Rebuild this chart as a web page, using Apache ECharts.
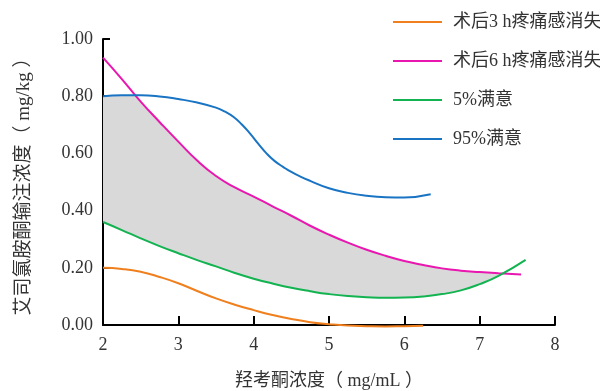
<!DOCTYPE html>
<html>
<head>
<meta charset="utf-8">
<script src="https://cdn.jsdelivr.net/npm/echarts@6/dist/echarts.min.js"></script>
<style>html,body{margin:0;padding:0;background:#fff}#c{width:600px;height:391px}</style>
</head>
<body>
<div id="c"></div>
<script>
// Data
var seriesNames = ['术后3 h疼痛感消失', '术后6 h疼痛感消失', '5%满意', '95%满意'];
var xTicks = [2, 3, 4, 5, 6, 7, 8];
var yTicks = [0, 0.2, 0.4, 0.6, 0.8, 1.0];

var pain3hX = [2, 2.25, 2.5, 2.75, 3, 3.25, 3.5, 3.75, 4, 4.25, 4.5, 4.75, 5, 5.25, 5.5, 5.75, 6, 6.25];
var pain3hY = [0.200, 0.196, 0.186, 0.168, 0.146, 0.119, 0.093, 0.071, 0.052, 0.035, 0.021, 0.010, 0.003, -0.002, -0.004, -0.005, -0.004, -0.003];

var pain6hX = [2, 2.25, 2.5, 2.75, 3, 3.25, 3.5, 3.75, 4, 4.25, 4.5, 4.75, 5, 5.25, 5.5, 5.75, 6, 6.25, 6.5, 6.75, 7, 7.25, 7.55];
var pain6hY = [0.935, 0.860, 0.781, 0.710, 0.641, 0.575, 0.521, 0.481, 0.449, 0.415, 0.382, 0.347, 0.316, 0.288, 0.263, 0.242, 0.224, 0.210, 0.198, 0.190, 0.185, 0.181, 0.177];

var sat5X = [2, 2.25, 2.5, 2.75, 3, 3.25, 3.5, 3.75, 4, 4.25, 4.5, 4.75, 5, 5.25, 5.5, 5.75, 6, 6.25, 6.5, 6.75, 7, 7.25, 7.61];
var sat5Y = [0.360, 0.332, 0.303, 0.276, 0.251, 0.227, 0.205, 0.182, 0.162, 0.145, 0.130, 0.118, 0.108, 0.101, 0.097, 0.095, 0.096, 0.100, 0.108, 0.121, 0.143, 0.172, 0.228];

var sat95X = [2, 2.25, 2.5, 2.75, 3, 3.25, 3.5, 3.62, 3.73, 3.84, 3.95, 4.06, 4.17, 4.28, 4.39, 4.5, 4.62, 4.75, 5, 5.25, 5.5, 5.75, 6, 6.35];
var sat95Y = [0.800, 0.803, 0.803, 0.799, 0.790, 0.778, 0.760, 0.746, 0.728, 0.702, 0.670, 0.634, 0.600, 0.573, 0.553, 0.535, 0.519, 0.504, 0.478, 0.462, 0.452, 0.447, 0.446, 0.457];

var colors = ['#F07F1E', '#E916B0', '#12B350', '#1A74C4'];

function pairs(xs, ys) { return xs.map(function (x, i) { return [x, ys[i]]; }); }
function interp(xs, ys, x) {
  if (x <= xs[0]) return ys[0];
  for (var i = 1; i < xs.length; i++) {
    if (x <= xs[i]) {
      var t = (x - xs[i - 1]) / (xs[i] - xs[i - 1]);
      return ys[i - 1] + t * (ys[i] - ys[i - 1]);
    }
  }
  return ys[ys.length - 1];
}
function topAt(x) {
  var m = interp(pain6hX, pain6hY, x);
  if (x <= sat95X[sat95X.length - 1]) m = Math.min(m, interp(sat95X, sat95Y, x));
  return m;
}
function botAt(x) { return interp(sat5X, sat5Y, x); }

// Band: between the upper bound (min of 95% and 6h) and 5% line, up to where they meet
function bandPoints() {
  var xsAll = {};
  [pain6hX, sat5X, sat95X].forEach(function (a) { a.forEach(function (x) { xsAll[x] = 1; }); });
  var xs = Object.keys(xsAll).map(Number).sort(function (a, b) { return a - b; });
  var dense = [];
  for (var i = 0; i < xs.length - 1; i++) {
    for (var k = 0; k < 4; k++) dense.push(xs[i] + (xs[i + 1] - xs[i]) * k / 4);
  }
  dense.push(xs[xs.length - 1]);
  var top = [], bot = [], endX = null;
  for (var j = 0; j < dense.length; j++) {
    var x = dense[j];
    var d = topAt(x) - botAt(x);
    if (d < 0) {
      var lo = dense[j - 1], hi = x;
      for (var n = 0; n < 30; n++) {
        var mid = (lo + hi) / 2;
        if (topAt(mid) - botAt(mid) > 0) lo = mid; else hi = mid;
      }
      endX = lo;
      break;
    }
    top.push([x, topAt(x)]);
    bot.push([x, botAt(x)]);
  }
  if (endX !== null) top.push([endX, topAt(endX)]);
  return top.concat(bot.reverse());
}

var chart = echarts.init(document.getElementById('c'));
var serifFont = '"Liberation Serif", "Noto Sans CJK SC", serif';

function lineSeries(name, xs, ys, color) {
  return {
    name: name, type: 'line', data: pairs(xs, ys), smooth: 0.5, symbol: 'none', clip: false,
    lineStyle: { color: color, width: 2 }, itemStyle: { color: color }, z: 3
  };
}

chart.setOption({
  animation: false,
  backgroundColor: '#fff',
  grid: { left: 103, right: 45, top: 39, bottom: 66, containLabel: false, outerBoundsMode: 'none' },
  legend: {
    orient: 'vertical', left: 388, top: 8,
    itemWidth: 49, itemHeight: 2, itemGap: 21, icon: 'rect',
    textStyle: { fontFamily: serifFont, fontSize: 18, color: '#333', padding: [0, 0, 0, 6] },
    data: seriesNames
  },
  xAxis: {
    type: 'value', min: xTicks[0], max: xTicks[xTicks.length - 1], interval: 1,
    name: '羟考酮浓度（ mg/mL ）', nameLocation: 'middle', nameGap: 47,
    nameTextStyle: { fontFamily: serifFont, fontSize: 18, color: '#333' },
    axisLine: { lineStyle: { color: '#000', width: 2 } },
    axisTick: { inside: true, length: 9, lineStyle: { color: '#000', width: 2 } },
    axisLabel: { fontFamily: serifFont, fontSize: 18, color: '#333', margin: 11 },
    splitLine: { show: false }
  },
  yAxis: {
    type: 'value', min: yTicks[0], max: yTicks[yTicks.length - 1], interval: 0.2,
    name: '艾司氯胺酮输注浓度（ mg/kg ）', nameLocation: 'middle', nameGap: 69,
    nameTextStyle: { fontFamily: serifFont, fontSize: 19, color: '#333' },
    axisLine: { lineStyle: { color: '#000', width: 2 } },
    axisTick: { inside: true, length: 7, lineStyle: { color: '#000', width: 2 } },
    axisLabel: { fontFamily: serifFont, fontSize: 18, color: '#333', margin: 10,
      formatter: function (v) { return v.toFixed(2); } },
    splitLine: { show: false }
  },
  series: [
    {
      name: 'band', type: 'custom', z: 1, silent: true, clip: false,
      data: [[2, 0]],
      renderItem: function (params, api) {
        var pts = bandPoints().map(function (p) { return api.coord(p); });
        return { type: 'polygon', shape: { points: pts }, style: { fill: '#D9D9D9' } };
      }
    },
    lineSeries(seriesNames[0], pain3hX, pain3hY, colors[0]),
    lineSeries(seriesNames[1], pain6hX, pain6hY, colors[1]),
    lineSeries(seriesNames[2], sat5X, sat5Y, colors[2]),
    lineSeries(seriesNames[3], sat95X, sat95Y, colors[3])
  ]
});
</script>
</body>
</html>
